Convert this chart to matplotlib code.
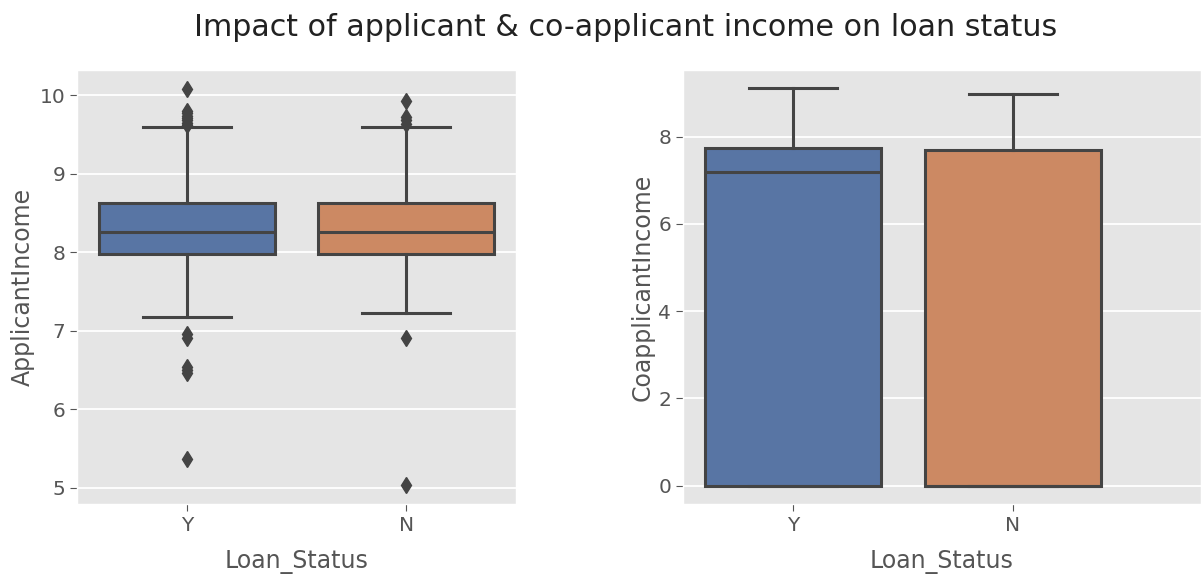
import numpy as np
import matplotlib
matplotlib.use("Agg")
import matplotlib.pyplot as plt

# box statistics (log-scaled incomes)
status = ["Y", "N"]
app_med = [8.25, 8.25]
app_q1 = [7.97, 7.97]
app_q3 = [8.63, 8.63]
app_lo = [7.17, 7.23]
app_hi = [9.60, 9.60]
app_fliers = [
    [10.08, 9.80, 9.77, 9.74, 9.71, 9.68, 9.65, 9.62, 6.95, 6.91, 6.54, 6.50, 6.46, 5.36],
    [9.93, 9.72, 9.68, 9.63, 6.91, 5.03],
]

co_med = [7.19, 0.0]
co_q1 = [0.0, 0.0]
co_q3 = [7.75, 7.70]
co_lo = [0.0, 0.0]
co_hi = [9.12, 8.99]
co_fliers = [[], []]

colors = ["#5875a4", "#cc8963"]
edge = "#444444"

plt.style.use("ggplot")
fig = plt.figure(figsize=(12.01, 5.75), dpi=100)
ax1 = fig.add_axes([77 / 1201, 71 / 575, 439 / 1201, 434 / 575])
ax2 = fig.add_axes([683 / 1201, 71 / 575, 518 / 1201, 434 / 575])


def draw(ax, med, q1, q3, lo, hi, fl):
    stats = []
    for i in range(len(status)):
        stats.append(dict(med=med[i], q1=q1[i], q3=q3[i], whislo=lo[i],
                          whishi=hi[i], fliers=fl[i], label=status[i]))
    lw = 2.2
    bp = ax.bxp(stats, positions=range(len(status)), widths=0.8,
                patch_artist=True,
                boxprops=dict(edgecolor=edge, linewidth=lw),
                medianprops=dict(color=edge, linewidth=lw),
                whiskerprops=dict(color=edge, linewidth=lw),
                capprops=dict(color=edge, linewidth=lw),
                flierprops=dict(marker="d", markerfacecolor=edge,
                                markeredgecolor=edge, markersize=8))
    for patch, c in zip(bp["boxes"], colors):
        patch.set_facecolor(c)
    ax.grid(False, axis="x")
    ax.grid(True, axis="y", color="white", linewidth=1.3)
    ax.set_axisbelow(True)
    ax.tick_params(labelsize=14.5, colors="#555555", length=5)
    ax.set_xlabel("Loan_Status", fontsize=17, color="#555555", labelpad=11)


draw(ax1, app_med, app_q1, app_q3, app_lo, app_hi, app_fliers)
draw(ax2, co_med, co_q1, co_q3, co_lo, co_hi, co_fliers)

ax1.set_xlim(-0.5, 1.5)
ax1.set_ylim(4.79, 10.32)
ax1.set_yticks([5, 6, 7, 8, 9, 10])
ax1.set_ylabel("ApplicantIncome", fontsize=17, color="#555555", labelpad=3)

ax2.set_xlim(-0.5, -0.5 + 518 / 220)
ax2.set_ylim(-0.42, 9.53)
ax2.set_yticks([0, 2, 4, 6, 8])
ax2.set_ylabel("CoapplicantIncome", fontsize=17, color="#555555", labelpad=3)

fig.suptitle("Impact of applicant & co-applicant income on loan status",
             fontsize=21.7, x=0.521, y=0.978, color="#222222")

fig.savefig("out.png", dpi=100)
